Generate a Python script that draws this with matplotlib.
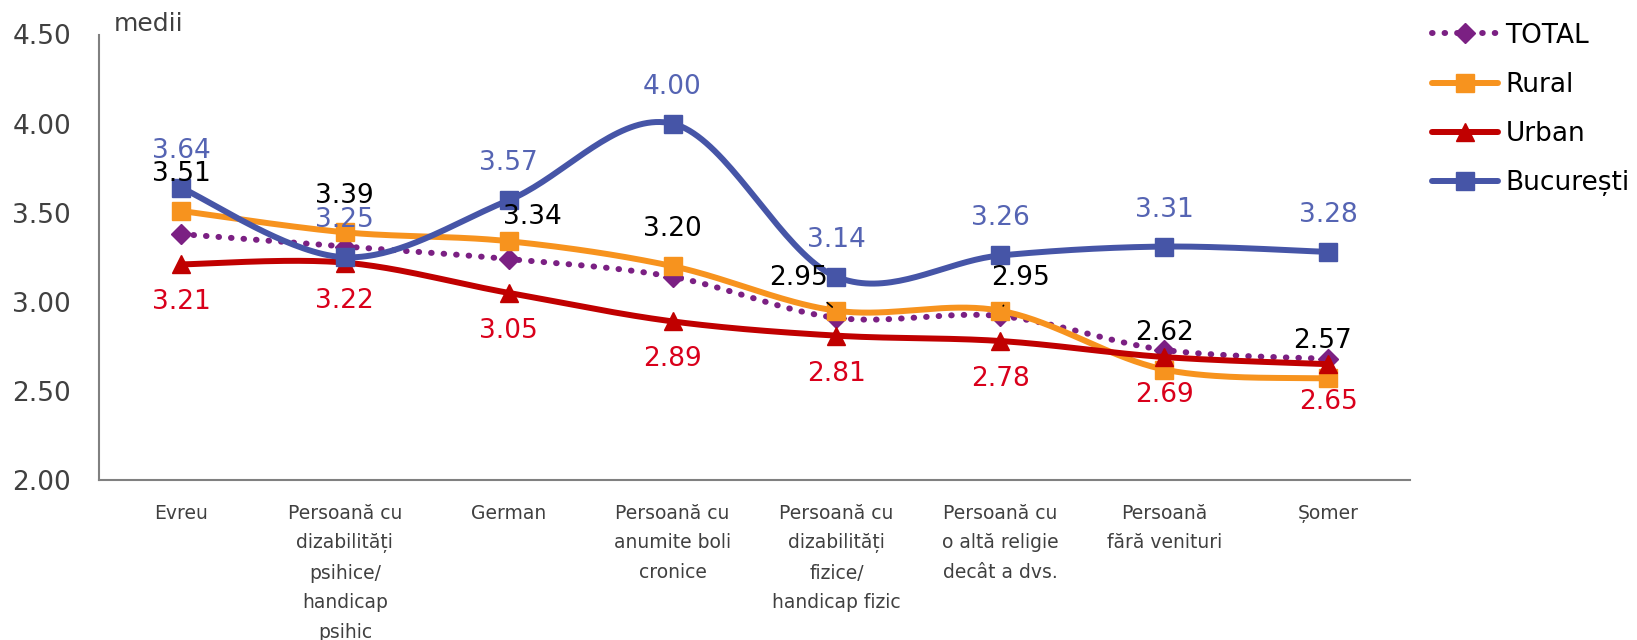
import numpy as np
import matplotlib
matplotlib.use("Agg")
import matplotlib.pyplot as plt
from matplotlib.lines import Line2D

categories = ["Evreu", "Persoană cu\ndizabilități\npsihice/\nhandicap\npsihic", "German",
              "Persoană cu\nanumite boli\ncronice", "Persoană cu\ndizabilități\nfizice/\nhandicap fizic",
              "Persoană cu\no altă religie\ndecât a dvs.", "Persoană\nfără venituri", "Șomer"]
total = [3.38, 3.31, 3.24, 3.14, 2.91, 2.92, 2.73, 2.68]
rural = [3.51, 3.39, 3.34, 3.20, 2.95, 2.95, 2.62, 2.57]
urban = [3.21, 3.22, 3.05, 2.89, 2.81, 2.78, 2.69, 2.65]
bucuresti = [3.64, 3.25, 3.57, 4.00, 3.14, 3.26, 3.31, 3.28]

c_total = "#7B2083"
c_rural = "#F7931E"
c_urban = "#C00000"
c_buc = "#4655A7"
c_buc_lbl = "#5564B3"
c_urb_lbl = "#D9001B"
grey = "#404040"

plt.rcParams['font.family'] = ['DejaVu Sans']


def smooth(xs, ys, n=40):
    # excel-like smoothed line: catmull-rom bezier segments
    p = np.column_stack([xs, ys]).astype(float)
    p_ext = np.vstack([p[0], p, p[-1]])
    out = []
    t = np.linspace(0, 1, n)[:, None]
    for i in range(len(p) - 1):
        p0, p1, p2, p3 = p_ext[i], p_ext[i + 1], p_ext[i + 2], p_ext[i + 3]
        c1 = p1 + (p2 - p0) / 6
        c2 = p2 - (p3 - p1) / 6
        seg = ((1 - t) ** 3) * p1 + 3 * ((1 - t) ** 2) * t * c1 + 3 * (1 - t) * t ** 2 * c2 + t ** 3 * p2
        out.append(seg if i == 0 else seg[1:])
    out = np.vstack(out)
    return out[:, 0], out[:, 1]


x = np.arange(len(categories))
fig = plt.figure(figsize=(16.37, 6.4), dpi=100)
ax = fig.add_axes([99 / 1637, 1 - 480 / 640, (1410 - 99) / 1637, (480 - 34.5) / 640])

series = [
    (total, c_total, 'D', 10, (0, (0.1, 2.0)), 4.3, "TOTAL"),
    (rural, c_rural, 's', 13, '-', 4.3, "Rural"),
    (urban, c_urban, '^', 13, '-', 4.3, "Urban"),
    (bucuresti, c_buc, 's', 13, '-', 4.3, "București"),
]
handles = []
for k, (vals, col, mk, ms, ls, lw, name) in enumerate(series):
    sx, sy = smooth(x, vals)
    ax.plot(sx, sy, color=col, lw=lw, ls=ls, solid_capstyle='round',
            dash_capstyle='round', zorder=2 + k)
    ax.plot(x, vals, ls='none', marker=mk, ms=ms, color=col, zorder=2 + k)
    handles.append(Line2D([0], [0], color=col, lw=lw, ls=ls, marker=mk, ms=ms,
                          dash_capstyle='round', solid_capstyle='round'))

lbl_fs = 19
# Bucuresti labels above
for i, v in enumerate(bucuresti):
    ax.annotate(f"{v:.2f}", (x[i], v), xytext=(0, 37), textcoords='offset pixels',
                ha='center', va='center', fontsize=lbl_fs, color=c_buc_lbl, zorder=10)
# Urban labels below
for i, v in enumerate(urban):
    ax.annotate(f"{v:.2f}", (x[i], v), xytext=(0, -38), textcoords='offset pixels',
                ha='center', va='center', fontsize=lbl_fs, color=c_urb_lbl, zorder=10)
# Rural labels above, a few shifted
rural_off = [(0, 37), (0, 36), (24, 24), (0, 37), (-38, 33), (20, 33), (0, 37), (-6, 37)]
for i, v in enumerate(rural):
    dx, dy = rural_off[i]
    if i in (4, 5):
        ax.annotate(f"{v:.2f}", (x[i], v), xytext=(dx, dy), textcoords='offset pixels',
                    ha='center', va='center', fontsize=lbl_fs, color='black', zorder=10,
                    arrowprops=dict(arrowstyle='-', color='black', lw=1.2, shrinkA=10, shrinkB=4))
    else:
        ax.annotate(f"{v:.2f}", (x[i], v), xytext=(dx, dy), textcoords='offset pixels',
                    ha='center', va='center', fontsize=lbl_fs, color='black', zorder=10)

ax.set_xlim(-0.5, len(categories) - 0.5)
ax.set_ylim(2.0, 4.5)
ax.set_yticks(np.arange(2.0, 4.51, 0.5))
ax.set_yticklabels([f"{t:.2f}" for t in np.arange(2.0, 4.51, 0.5)])
ax.set_xticks(x)
ax.set_xticklabels(categories, fontsize=13.5, color=grey, linespacing=1.7)
ax.tick_params(axis='y', length=0, pad=20, labelsize=19, labelcolor=grey)
ax.tick_params(axis='x', length=0, pad=17)
for s in ['top', 'right']:
    ax.spines[s].set_visible(False)
for s in ['left', 'bottom']:
    ax.spines[s].set_color('#808080')
    ax.spines[s].set_linewidth(1.5)

fig.text(114 / 1637, 1 - 24 / 640, "medii", fontsize=18, color=grey, va='center', ha='left')

fig.legend(handles, [s[-1] for s in series], loc='upper left',
           bbox_to_anchor=(1421 / 1637, 1 - 12 / 640), frameon=False, fontsize=19,
           handlelength=2.5, handletextpad=0.3, labelspacing=0.88, borderaxespad=0)

fig.savefig("out.png", dpi=100)
